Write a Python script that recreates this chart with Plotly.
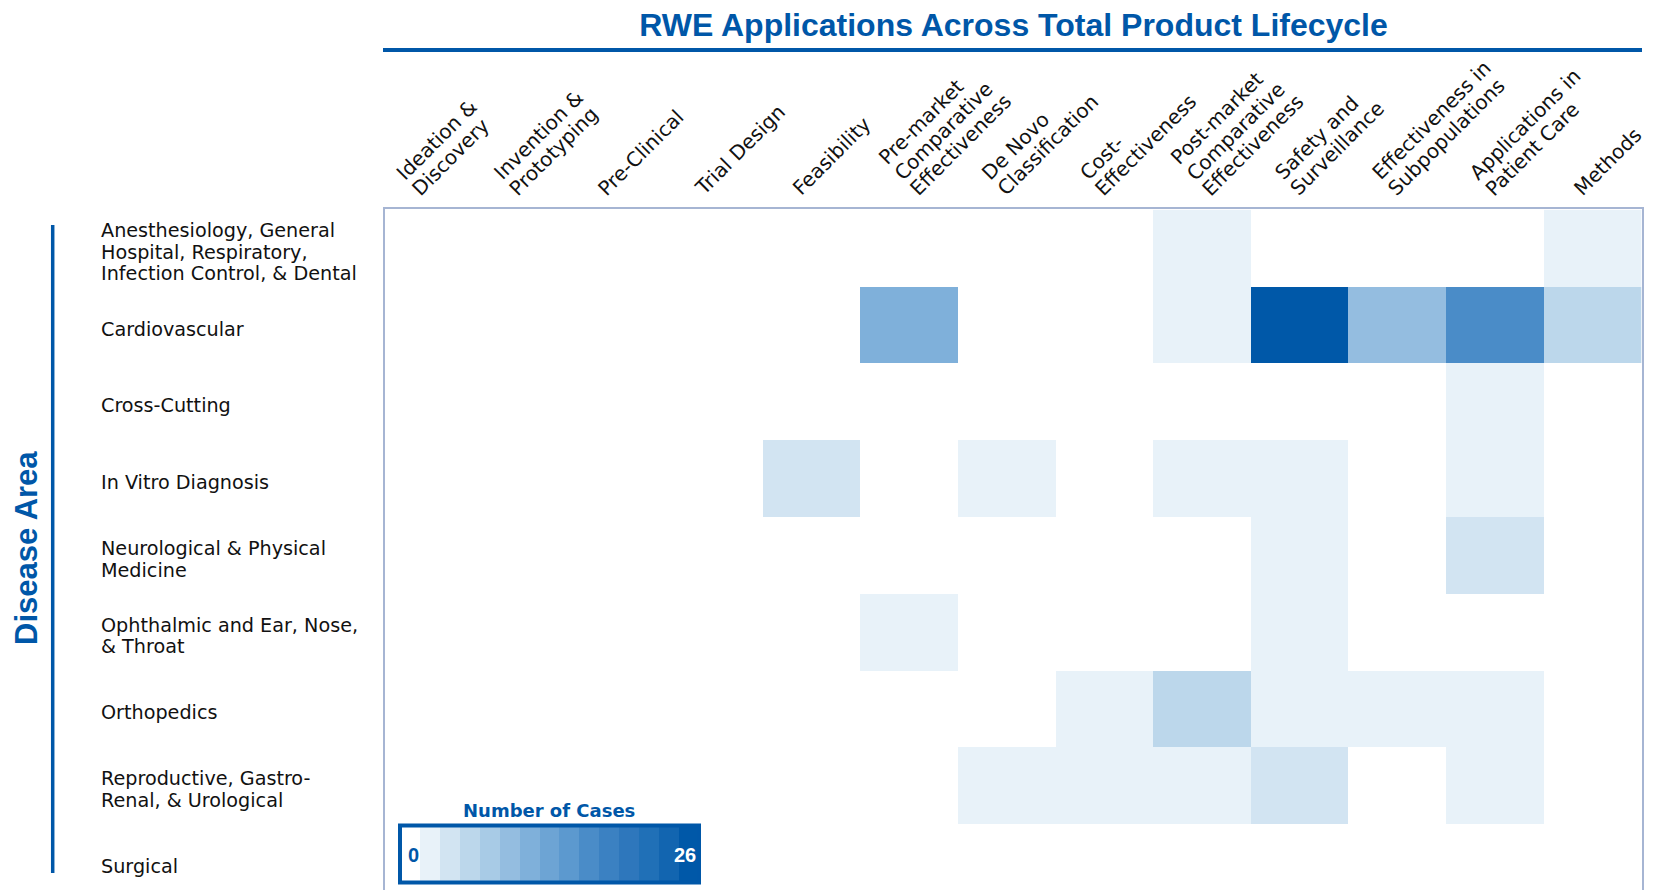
import plotly.graph_objects as go

# ---------------- data ----------------
lifecycle_stages = [
    "Ideation & Discovery", "Invention & Prototyping", "Pre-Clinical", "Trial Design",
    "Feasibility", "Pre-market Comparative Effectiveness", "De Novo Classification",
    "Cost-Effectiveness", "Post-market Comparative Effectiveness", "Safety and Surveillance",
    "Effectiveness in Subpopulations", "Applications in Patient Care", "Methods",
]
stage_tick_labels = [
    "Ideation &<br>Discovery", "Invention &<br>Prototyping", "Pre-Clinical", "Trial Design",
    "Feasibility", "Pre-market<br>Comparative<br>Effectiveness", "De Novo<br>Classification",
    "Cost-<br>Effectiveness", "Post-market<br>Comparative<br>Effectiveness", "Safety and<br>Surveillance",
    "Effectiveness in<br>Subpopulations", "Applications in<br>Patient Care", "Methods",
]
disease_areas = [
    "Anesthesiology, General Hospital, Respiratory, Infection Control, & Dental",
    "Cardiovascular", "Cross-Cutting", "In Vitro Diagnosis",
    "Neurological & Physical Medicine", "Ophthalmic and Ear, Nose, & Throat",
    "Orthopedics", "Reproductive, Gastro-Renal, & Urological", "Surgical",
]
disease_tick_labels = [
    "Anesthesiology, General<br>Hospital, Respiratory,<br>Infection Control, & Dental",
    "Cardiovascular", "Cross-Cutting", "In Vitro Diagnosis",
    "Neurological & Physical<br>Medicine", "Ophthalmic and Ear, Nose,<br>& Throat",
    "Orthopedics", "Reproductive, Gastro-<br>Renal, & Urological", "Surgical",
]
# rows = disease areas, columns = lifecycle stages
cases = [
    [0, 0, 0, 0, 0, 0, 0, 0, 2, 0, 0, 0, 2],
    [0, 0, 0, 0, 0, 11, 0, 0, 2, 26, 10, 16, 6],
    [0, 0, 0, 0, 0, 0, 0, 0, 0, 0, 0, 2, 0],
    [0, 0, 0, 0, 4, 0, 2, 0, 2, 2, 0, 2, 0],
    [0, 0, 0, 0, 0, 0, 0, 0, 0, 2, 0, 4, 0],
    [0, 0, 0, 0, 0, 2, 0, 0, 0, 2, 0, 0, 0],
    [0, 0, 0, 0, 0, 0, 0, 2, 6, 2, 2, 2, 0],
    [0, 0, 0, 0, 0, 0, 2, 2, 2, 4, 0, 2, 0],
    [0, 0, 0, 0, 0, 0, 0, 0, 0, 0, 0, 0, 0],
]
scale_min, scale_max = 0, 26
step_colors = [
    "#ffffff", "#e8f2f9", "#d2e4f2", "#bcd7eb", "#a8cbe6", "#94bde0", "#7fb0da",
    "#6da4d4", "#5c99cf", "#4a8cc8", "#3b81c2", "#2e77bc", "#2070b7", "#1265b0", "#0058a8",
]

# ---------------- styling ----------------
BLUE = "#0057a8"
PAGE_OFF = 8                      # default body margin of the html page
W, H = 1658 - PAGE_OFF, 890 - PAGE_OFF
ML, MR, MT, MB = 385 - PAGE_OFF, 16, 209 - PAGE_OFF, 0
PW, PH = W - ML - MR, H - MT - MB


def px_x(rx):
    """page pixel x -> paper x"""
    return (rx - PAGE_OFF - ML) / PW


def px_y(ry):
    """page pixel y -> paper y"""
    return (H - MB - (ry - PAGE_OFF)) / PH


n = len(step_colors)
colorscale = []
for k, c in enumerate(step_colors):
    colorscale.append([k / n, c])
    colorscale.append([(k + 1) / n, c])

fig = go.Figure()
fig.add_trace(go.Heatmap(
    z=cases,
    x=list(range(len(lifecycle_stages))),
    y=list(range(len(disease_areas))),
    customdata=[[f"{d} / {s}" for s in lifecycle_stages] for d in disease_areas],
    hovertemplate="%{customdata}: %{z}<extra></extra>",
    zmin=scale_min, zmax=scale_max,
    colorscale=colorscale,
    xgap=0, ygap=0,
    colorbar=dict(
        orientation="h",
        x=px_x(400), xanchor="left",
        y=px_y(856), yanchor="middle",
        lenmode="pixels", len=299,
        thickness=57,
        outlinewidth=4, outlinecolor=BLUE,
        xpad=0, ypad=0,
        showticklabels=False, ticks="",
    ),
))

fig.update_xaxes(
    side="top",
    tickmode="array",
    tickvals=list(range(len(lifecycle_stages))),
    showticklabels=False,
    range=[-0.37, 12.51],
    showgrid=False, zeroline=False,
    showline=True, linecolor="#a6b5d3", linewidth=1.5,
    ticks="",
)
fig.update_yaxes(
    tickmode="array",
    tickvals=list(range(len(disease_areas))),
    showticklabels=False,
    range=[8.363, -0.512],
    showgrid=False, zeroline=False,
    showline=True, mirror=True, linecolor="#a6b5d3", linewidth=1.5,
    ticks="",
)

annotations = []

# --- rotated column labels (one annotation per line, start-aligned) ---
XF = 20                    # font size
X_LS = 22                  # line spacing
X_GAP = 12                 # last line above the plot top
BOX_H = 1.164 * XF
DESC = 0.236 * XF
R2 = 0.7071
for i, lab in enumerate(stage_tick_labels):
    lines = lab.split("<br>")
    m = len(lines)
    x_off = -10.5 + 9.6 * (m - 1)
    for j, line in enumerate(lines):
        k = m - 1 - j
        annotations.append(dict(
            x=i, xref="x", y=1, yref="paper",
            text=line, showarrow=False, textangle=-45,
            xanchor="left", yanchor="bottom",
            borderpad=0, borderwidth=0,
            xshift=x_off - R2 * k * X_LS - R2 * (BOX_H - DESC),
            yshift=X_GAP + R2 * k * X_LS - R2 * DESC,
            font=dict(family="DejaVu Sans", size=XF, color="#111111"),
        ))

# --- row labels (one annotation per line, left-aligned) ---
LINE_H = 21.7
for i, lab in enumerate(disease_tick_labels):
    lines = lab.split("<br>")
    m = len(lines)
    for j, line in enumerate(lines):
        annotations.append(dict(
            x=px_x(98.5), xref="paper", y=i, yref="y",
            text=line, showarrow=False, xanchor="left", yanchor="middle", align="left",
            yshift=-4 - (j - (m - 1) / 2) * LINE_H,
            font=dict(family="DejaVu Sans", size=19.2, color="#111111"),
        ))

annotations += [
    dict(x=px_x(26), y=px_y(548), xref="paper", yref="paper", text="<b>Disease Area</b>",
         textangle=-90, showarrow=False, xanchor="center", yanchor="middle",
         font=dict(family="Liberation Sans, Arial", size=31, color=BLUE)),
    dict(x=px_x(549), y=px_y(810), xref="paper", yref="paper", text="<b>Number of Cases</b>",
         showarrow=False, xanchor="center", yanchor="middle",
         font=dict(family="DejaVu Sans", size=18, color=BLUE)),
    dict(x=px_x(413.7), y=px_y(855), xref="paper", yref="paper", text=f"<b>{scale_min}</b>",
         showarrow=False, xanchor="center", yanchor="middle",
         font=dict(family="Liberation Sans, Arial", size=20, color=BLUE)),
    dict(x=px_x(685), y=px_y(855), xref="paper", yref="paper", text=f"<b>{scale_max}</b>",
         showarrow=False, xanchor="center", yanchor="middle",
         font=dict(family="Liberation Sans, Arial", size=20, color="#ffffff")),
]

shapes = [
    dict(type="line", xref="paper", yref="paper", x0=px_x(383), x1=1.0,
         y0=px_y(50), y1=px_y(50), line=dict(color=BLUE, width=4)),
    dict(type="line", xref="paper", yref="paper", x0=px_x(52.7), x1=px_x(52.7),
         y0=px_y(225), y1=px_y(873), line=dict(color=BLUE, width=3.5)),
]

fig.update_layout(
    width=W, height=H,
    margin=dict(l=ML, r=MR, t=MT, b=MB),
    paper_bgcolor="white", plot_bgcolor="white",
    title=dict(
        text="<b>RWE Applications Across Total Product Lifecycle</b>",
        x=0.5, xref="paper", xanchor="center",
        y=1 - (25 - PAGE_OFF) / H, yref="container", yanchor="middle",
        font=dict(family="Liberation Sans, Arial", size=32, color=BLUE),
    ),
    annotations=annotations,
    shapes=shapes,
)

fig.write_html("out.html")
